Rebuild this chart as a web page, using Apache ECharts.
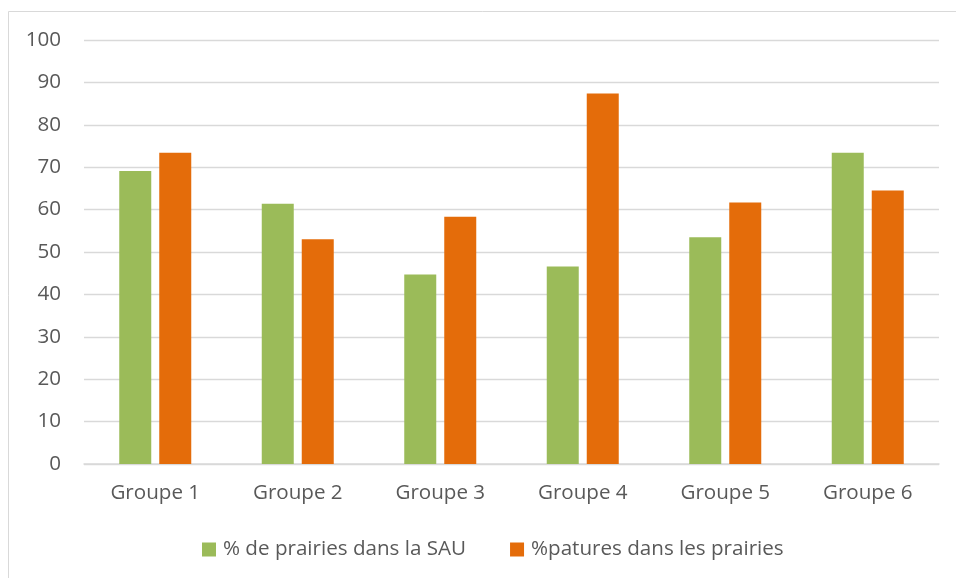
<!DOCTYPE html>
<html>
<head>
    <meta charset="utf-8">
    <title>Prairies</title>
    <script src="https://cdn.jsdelivr.net/npm/echarts@6/dist/echarts.min.js"></script>
    <style>
        html, body { margin: 0; padding: 0; background: #fff; }
        #chart { width: 956px; height: 578px; }
    </style>
</head>
<body>
    <div id="chart"></div>
    <script type="text/javascript">
        // données
        var groupes = ['Groupe 1', 'Groupe 2', 'Groupe 3', 'Groupe 4', 'Groupe 5', 'Groupe 6'];
        var prairiesSAU = [69.1, 61.4, 44.7, 46.6, 53.5, 73.4];
        var paturesPrairies = [73.4, 53.0, 58.3, 87.4, 61.7, 64.5];

        var txtColor = '#595959';
        var fontFam = '"Open Sans", "Noto Sans", sans-serif';

        var myChart = echarts.init(document.getElementById('chart'));

        var option = {
            animation: false,
            backgroundColor: '#fff',
            textStyle: { fontFamily: fontFam },
            graphic: [{
                type: 'rect',
                shape: { x: 8.5, y: 11.5, width: 1000, height: 700 },
                style: { fill: 'none', stroke: '#d9d9d9', lineWidth: 1 },
                silent: true
            }],
            grid: { left: 84, right: 17, top: 40, bottom: 114 },
            legend: {
                bottom: 13,
                left: 197,
                icon: 'rect',
                itemWidth: 14,
                itemHeight: 14,
                itemGap: 44,
                textStyle: { color: txtColor, fontSize: 20.6, fontFamily: fontFam, padding: [0, 0, 0, 2] }
            },
            xAxis: {
                type: 'category',
                data: groupes,
                axisLine: { lineStyle: { color: '#d9d9d9', width: 1.5 } },
                axisTick: { show: false },
                axisLabel: { color: txtColor, fontSize: 20.6, margin: 19, fontFamily: fontFam }
            },
            yAxis: {
                type: 'value',
                min: 0,
                max: 100,
                interval: 10,
                axisLine: { show: false },
                axisTick: { show: false },
                axisLabel: { color: txtColor, fontSize: 20.6, margin: 23, fontFamily: fontFam },
                splitLine: { lineStyle: { color: '#d9d9d9', width: 1.3 } }
            },
            series: [{
                name: '% de prairies dans la SAU',
                type: 'bar',
                data: prairiesSAU,
                barWidth: 32,
                barGap: '25%',
                itemStyle: { color: '#9bbb59' }
            }, {
                name: '%patures dans les prairies',
                type: 'bar',
                data: paturesPrairies,
                barWidth: 32,
                itemStyle: { color: '#e46c0a' }
            }]
        };

        myChart.setOption(option);
    </script>
</body>
</html>
